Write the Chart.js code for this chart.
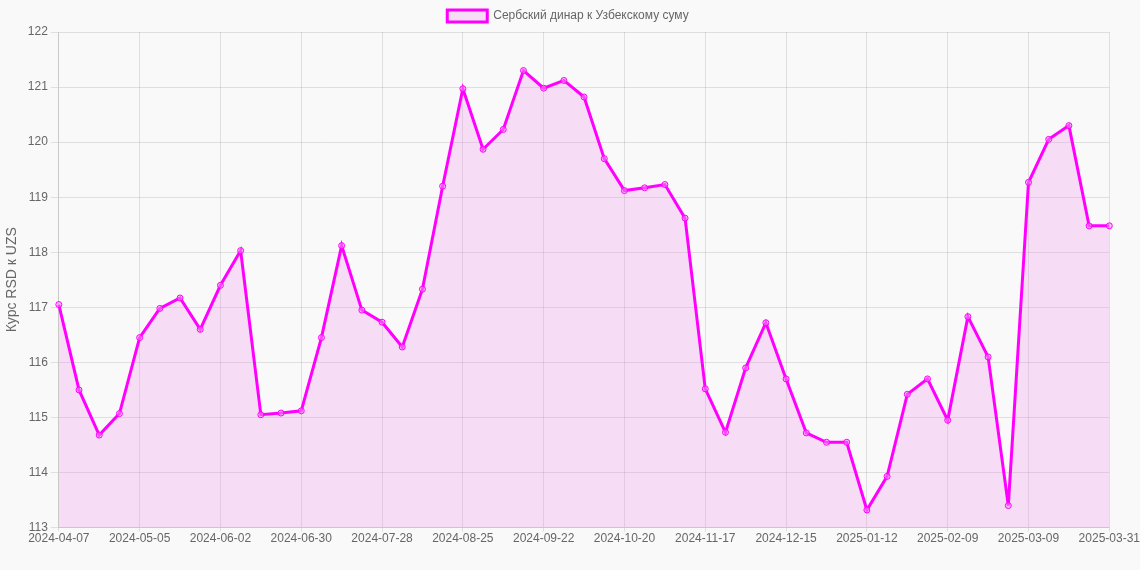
<!DOCTYPE html>
<html>
<head>
<meta charset="utf-8">
<script src="https://cdn.jsdelivr.net/npm/chart.js@4"></script>
<style>
  html, body { margin: 0; padding: 0; background: #f9f9f9; }
  #wrap { width: 1140px; height: 570px; }
</style>
</head>
<body>
<div id="wrap"><canvas id="rateChart"></canvas></div>
<script>
// weekly dates + last day
const labels = [
  '2024-04-07','2024-04-14','2024-04-21','2024-04-28','2024-05-05','2024-05-12','2024-05-19','2024-05-26',
  '2024-06-02','2024-06-09','2024-06-16','2024-06-23','2024-06-30','2024-07-07','2024-07-14','2024-07-21',
  '2024-07-28','2024-08-04','2024-08-11','2024-08-18','2024-08-25','2024-09-01','2024-09-08','2024-09-15',
  '2024-09-22','2024-09-29','2024-10-06','2024-10-13','2024-10-20','2024-10-27','2024-11-03','2024-11-10',
  '2024-11-17','2024-11-24','2024-12-01','2024-12-08','2024-12-15','2024-12-22','2024-12-29','2025-01-05',
  '2025-01-12','2025-01-19','2025-01-26','2025-02-02','2025-02-09','2025-02-16','2025-02-23','2025-03-02',
  '2025-03-09','2025-03-16','2025-03-23','2025-03-30','2025-03-31'
];
const rates = [
  117.05,115.5,114.68,115.07,116.45,116.98,117.17,116.6,
  117.4,118.03,115.05,115.08,115.12,116.45,118.12,116.95,
  116.73,116.28,117.33,119.2,120.97,119.87,120.23,121.3,
  120.98,121.12,120.82,119.7,119.12,119.17,119.23,118.62,
  115.52,114.73,115.9,116.72,115.7,114.72,114.55,114.55,
  113.32,113.93,115.42,115.7,114.95,116.83,116.1,113.4,
  119.27,120.05,120.3,118.48,118.48
];
const seriesLabel = 'Сербский динар к Узбекскому суму';
const yTitle = 'Курс RSD к UZS';

const shown = i => i % 4 === 0 || i === labels.length - 1;

Chart.defaults.font.family = 'Arial, "Liberation Sans", sans-serif';
Chart.defaults.color = '#666';

new Chart(document.getElementById('rateChart').getContext('2d'), {
  type: 'line',
  data: {
    labels,
    datasets: [{
      label: seriesLabel,
      data: rates,
      borderColor: '#f0f',
      backgroundColor: 'rgba(240,120,230,0.22)',
      borderWidth: 3,
      pointRadius: 3,
      pointBorderWidth: 1,
      pointBackgroundColor: 'rgba(240,150,240,0.5)',
      pointBorderColor: '#f0f',
      fill: true,
      tension: 0
    }]
  },
  options: {
    responsive: true,
    maintainAspectRatio: false,
    animation: false,
    layout: { padding: { right: 4, bottom: 24 } },
    scales: {
      x: {
        grid: {
          color: c => shown(c.index) ? 'rgba(0,0,0,0.1)' : 'rgba(0,0,0,0)',
          tickLength: 4
        },
        ticks: {
          autoSkip: false,
          maxRotation: 0,
          color: '#666',
          padding: 0,
          callback: (v, i) => shown(i) ? labels[i] : ''
        }
      },
      y: {
        min: 113, max: 122,
        ticks: { stepSize: 1, color: '#666' },
        grid: { color: 'rgba(0,0,0,0.1)' },
        title: { display: true, text: yTitle, color: '#666', font: { size: 14 } }
      }
    },
    plugins: {
      legend: { labels: { color: '#666' } },
      tooltip: { intersect: false, mode: 'index' }
    }
  }
});
</script>
</body>
</html>
